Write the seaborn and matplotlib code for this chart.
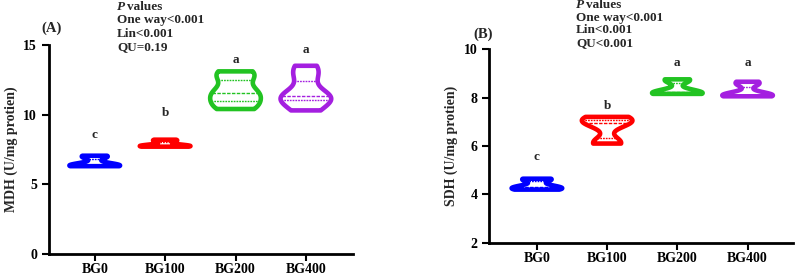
import matplotlib
matplotlib.use("Agg")
import matplotlib.pyplot as plt
import seaborn as sns
import pandas as pd

groups = ["BG0", "BG100", "BG200", "BG400"]
mdh_bg0 = [6.3, 6.3, 6.35, 6.45, 6.95, 7.05]
mdh_bg100 = [7.7, 7.72, 7.75, 7.8, 8.1, 8.2]
mdh_bg200 = [10.4, 10.8, 11.4, 11.7, 12.7, 13.1]
mdh_bg400 = [10.3, 11.0, 11.25, 11.45, 12.7, 13.5]
sdh_bg0 = [4.2, 4.22, 4.28, 4.35, 4.6, 4.65]
sdh_bg100 = [6.1, 6.15, 6.9, 7.0, 7.1, 7.2]
sdh_bg200 = [8.15, 8.17, 8.2, 8.22, 8.7, 8.75]
sdh_bg400 = [8.05, 8.08, 8.1, 8.12, 8.55, 8.65]
mdh_letters = ["c", "b", "a", "a"]
mdh_letter_y = [8.5, 10.1, 13.9, 14.6]
sdh_letters = ["c", "b", "a", "a"]
sdh_letter_y = [5.55, 7.65, 9.42, 9.42]
mdh_p = ["One way<0.001", "Lin<0.001", "QU=0.19"]
sdh_p = ["One way<0.001", "Lin<0.001", "QU<0.001"]
colors = ["#0000ff", "#ff0000", "#22c322", "#a41fe0"]

def make_df(vals):
    rows = []
    for g, v in zip(groups, vals):
        for x in v:
            rows.append({"group": g, "value": x})
    return pd.DataFrame(rows)

df_mdh = make_df([mdh_bg0, mdh_bg100, mdh_bg200, mdh_bg400])
df_sdh = make_df([sdh_bg0, sdh_bg100, sdh_bg200, sdh_bg400])

sns.set_style("ticks")
plt.rcParams["font.family"] = ["Liberation Serif", "DejaVu Serif"]
plt.rcParams["font.weight"] = "bold"

fig = plt.figure(figsize=(7.98, 2.77), dpi=100)
ax1 = fig.add_axes([0.0614, 0.083, 0.381, 0.755])
ax2 = fig.add_axes([0.613, 0.123, 0.381, 0.700])

def draw(ax, df, ylim, yticks, ylabel, letters, ly, xlim):
    sns.violinplot(data=df, x="group", y="value", hue="group", palette=colors,
                   fill=False, inner="quart", cut=0, density_norm="width",
                   width=0.72, linewidth=3.3, bw_adjust=0.7, legend=False, ax=ax,
                   inner_kws=dict(linewidth=1))
    ax.set_ylim(*ylim)
    ax.set_xlim(*xlim)
    ax.set_yticks(yticks)
    ax.set_xlabel("")
    ax.set_ylabel(ylabel, fontsize=10, fontweight="bold", labelpad=4)
    sns.despine(ax=ax)
    for s in ["left", "bottom"]:
        ax.spines[s].set_linewidth(2)
        ax.spines[s].set_color("black")
    ax.tick_params(axis="both", width=1.5, length=5, colors="black", labelsize=10)
    ax.tick_params(axis="x", pad=1.5)
    for lab in ax.get_xticklabels() + ax.get_yticklabels():
        lab.set_fontweight("bold")
    for i, (t, y) in enumerate(zip(letters, ly)):
        ax.text(i, y, t, ha="center", va="center", fontsize=9.5, fontweight="bold")

draw(ax1, df_mdh, (0, 15), [0, 5, 10, 15], "MDH (U/mg protien)",
     mdh_letters, mdh_letter_y, (-0.65, 3.67))
draw(ax2, df_sdh, (2, 10), [2, 4, 6, 8, 10], "SDH (U/mg protien)",
     sdh_letters, sdh_letter_y, (-0.68, 3.65))

def ptext(x, y0, lines, dy):
    H = 277.0
    W = 798.0
    fig.text(x / W, 1 - y0 / H, "P", fontsize=9.5, fontweight="bold", style="italic",
             va="center", ha="left")
    fig.text((x + 10) / W, 1 - y0 / H, "values", fontsize=9.5, fontweight="bold",
             va="center", ha="left")
    for i, l in enumerate(lines):
        fig.text(x / W, 1 - (y0 + dy * (i + 1)) / H, l, fontsize=9.5,
                 fontweight="bold", va="center", ha="left")

ptext(117, 7, mdh_p, 13.3)
ptext(576, 5, sdh_p, 12.7)
fig.text(41 / 798, 1 - 28 / 277, "(A)", fontsize=10.5, fontweight="bold", va="center")
fig.text(473 / 798, 1 - 34 / 277, "(B)", fontsize=10.5, fontweight="bold", va="center")

fig.savefig("out.png", dpi=100)
